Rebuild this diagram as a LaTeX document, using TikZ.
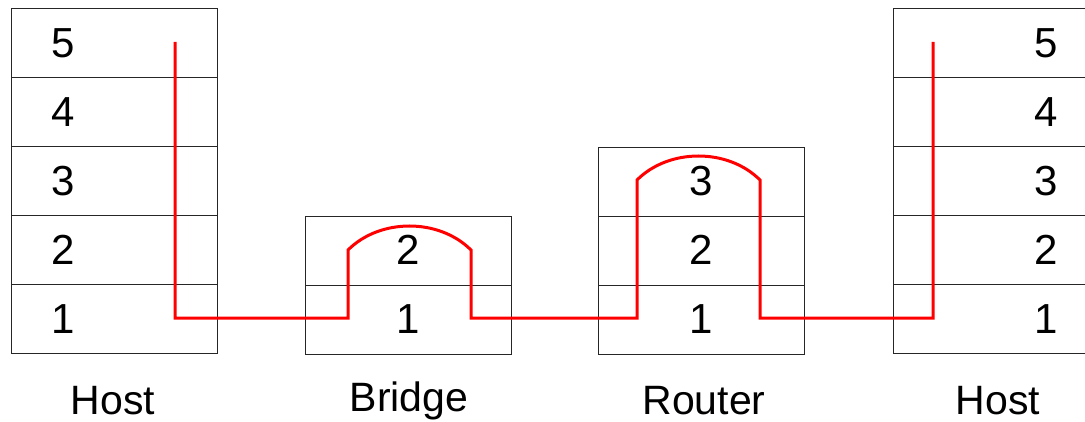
\documentclass[tikz,border=0pt]{standalone}
\usepackage{fontspec}
\setmainfont{Liberation Sans}
\begin{document}
\begin{tikzpicture}[x=1pt,y=-1pt,
  cell/.style={draw=black!85,line width=1.4pt,minimum height=69pt,inner sep=0pt,anchor=north west},
  num/.style={font=\fontsize{42}{42}\selectfont},
  lbl/.style={font=\fontsize{41}{41}\selectfont,anchor=base,inner sep=1pt},
  route/.style={draw=red,line width=3pt,line join=miter}]
\useasboundingbox (0,0) rectangle (1085,422);
\begin{scope}
\clip (0,0) rectangle (1085,422);
% left host
\foreach \n [count=\i from 0] in {5,4,3,2,1}{
  \node[cell,minimum width=206pt] (L\n) at (11,{8+69*\i}) {};
  \node[num] at (63,{43+69*\i}) {\n};
}
% right host
\foreach \n [count=\i from 0] in {5,4,3,2,1}{
  \node[cell,minimum width=220pt] (R\n) at (893,{8+69*\i}) {};
  \node[num] at (1046,{43+69*\i}) {\n};
}
% bridge
\foreach \n [count=\i from 0] in {2,1}{
  \node[cell,minimum width=206pt] (B\n) at (305,{216+69*\i}) {};
  \node[num] at (408,{250+69*\i}) {\n};
}
% router
\foreach \n [count=\i from 0] in {3,2,1}{
  \node[cell,minimum width=206pt] (T\n) at (598,{147+69*\i}) {};
  \node[num] at (701,{181+69*\i}) {\n};
}
\end{scope}
% labels
\node[lbl] (hl) at (113,414) {Host};
\node[lbl] (bl) at (409,411) {Bridge};
\node[lbl] (rl) at (704,414) {Router};
\node[lbl] (hr) at (998,414) {Host};
% route
\coordinate (a0) at (175,42);
\coordinate (a1) at (175,318);
\coordinate (b0) at (348,318);
\coordinate (b1) at (348,250);
\coordinate (b2) at (471,250);
\coordinate (b3) at (471,318);
\coordinate (c0) at (637,318);
\coordinate (c1) at (637,180);
\coordinate (c2) at (760,180);
\coordinate (c3) at (760,318);
\coordinate (d0) at (933,318);
\coordinate (d1) at (933,42);
\draw[route] (a0) -- (a1) -- (b0) -- (b1)
  .. controls (380,218) and (439,218) .. (b2)
  -- (b3) -- (c0) -- (c1)
  .. controls (669,148) and (728,148) .. (c2)
  -- (c3) -- (d0) -- (d1);
\end{tikzpicture}
\end{document}
